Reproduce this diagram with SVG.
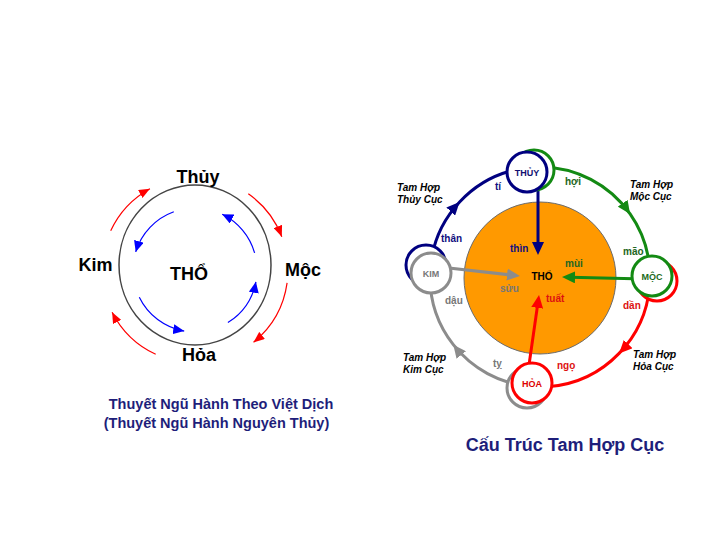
<svg xmlns="http://www.w3.org/2000/svg" width="720" height="540" viewBox="0 0 720 540">
<style>
text{font-family:"Liberation Sans",Arial,sans-serif;font-weight:bold}
.big{font-size:18px;fill:#000;text-anchor:middle}
.cap{fill:#1e1e7a;text-anchor:middle}
.lbl{font-size:10px}
.grp{font-size:10px;font-style:italic;fill:#000}
.nd{font-size:9px;text-anchor:middle}
.thin{fill:none;stroke-width:1.2}
.arc{fill:none;stroke-width:3}
.node{fill:#fff;stroke-width:3}
</style>
<defs>
<marker id="aR" markerUnits="userSpaceOnUse" markerWidth="11" markerHeight="9" viewBox="0 0 11 9" refX="11" refY="4.5" orient="auto"><path d="M0,0 L11,4.5 L0,9 z" fill="#ff0000"/></marker>
<marker id="aB" markerUnits="userSpaceOnUse" markerWidth="11" markerHeight="10" viewBox="0 0 11 10" refX="11" refY="5" orient="auto"><path d="M0,0 L11,5 L0,10 z" fill="#0000ff"/></marker>
<marker id="mN" markerUnits="userSpaceOnUse" markerWidth="13" markerHeight="12" viewBox="0 0 13 12" refX="13" refY="6" orient="auto"><path d="M0,0 L13,6 L0,12 z" fill="#000080"/></marker>
<marker id="mG" markerUnits="userSpaceOnUse" markerWidth="13" markerHeight="12" viewBox="0 0 13 12" refX="13" refY="6" orient="auto"><path d="M0,0 L13,6 L0,12 z" fill="#138a13"/></marker>
<marker id="mR" markerUnits="userSpaceOnUse" markerWidth="13" markerHeight="12" viewBox="0 0 13 12" refX="13" refY="6" orient="auto"><path d="M0,0 L13,6 L0,12 z" fill="#ff0000"/></marker>
<marker id="mY" markerUnits="userSpaceOnUse" markerWidth="13" markerHeight="12" viewBox="0 0 13 12" refX="13" refY="6" orient="auto"><path d="M0,0 L13,6 L0,12 z" fill="#8c8c8c"/></marker>
<marker id="eN" markerUnits="userSpaceOnUse" markerWidth="13" markerHeight="12" viewBox="0 0 13 12" refX="5" refY="6" orient="auto"><path d="M0,0 L13,6 L0,12 z" fill="#000080"/></marker>
<marker id="eG" markerUnits="userSpaceOnUse" markerWidth="13" markerHeight="12" viewBox="0 0 13 12" refX="5" refY="6" orient="auto"><path d="M0,0 L13,6 L0,12 z" fill="#138a13"/></marker>
<marker id="eR" markerUnits="userSpaceOnUse" markerWidth="13" markerHeight="12" viewBox="0 0 13 12" refX="5" refY="6" orient="auto"><path d="M0,0 L13,6 L0,12 z" fill="#ff0000"/></marker>
<marker id="eY" markerUnits="userSpaceOnUse" markerWidth="13" markerHeight="12" viewBox="0 0 13 12" refX="5" refY="6" orient="auto"><path d="M0,0 L13,6 L0,12 z" fill="#8c8c8c"/></marker>
</defs>
<rect width="720" height="540" fill="#fff"/>

<!-- LEFT DIAGRAM -->
<g id="left-ring"><ellipse cx="195" cy="265" rx="76" ry="80" fill="none" stroke="#444" stroke-width="1.5"/></g>
<g id="left-connectors">
<path class="thin" stroke="#ff0000" marker-end="url(#aR)" d="M110.7,230.7 A93,93 0 0 1 149.9,188.7"/>
<path class="thin" stroke="#ff0000" marker-end="url(#aR)" d="M248.3,193.8 A93,93 0 0 1 281.8,236.7"/>
<path class="thin" stroke="#ff0000" marker-end="url(#aR)" d="M287.1,282.9 A93,93 0 0 1 253.5,342.3"/>
<path class="thin" stroke="#ff0000" marker-end="url(#aR)" d="M155.7,354.3 A93,93 0 0 1 112.1,312.2"/>
<path class="thin" stroke="#0000ff" marker-end="url(#aB)" d="M173.8,211.7 A62,62 0 0 0 135.7,251.9"/>
<path class="thin" stroke="#0000ff" marker-end="url(#aB)" d="M139.3,297.2 A62,62 0 0 0 184.2,331.1"/>
<path class="thin" stroke="#0000ff" marker-end="url(#aB)" d="M227.9,322.6 A62,62 0 0 0 255.9,281.8"/>
<path class="thin" stroke="#0000ff" marker-end="url(#aB)" d="M254.6,252.9 A62,62 0 0 0 222.2,214.3"/>
</g>
<g id="l-thuy"><text class="big" x="198" y="183">Thủy</text></g>
<g id="l-kim"><text class="big" x="95.5" y="271">Kim</text></g>
<g id="l-moc"><text class="big" x="303" y="276">Mộc</text></g>
<g id="l-hoa"><text class="big" x="199" y="361">Hỏa</text></g>
<g id="l-tho"><text class="big" x="189" y="280">THỔ</text></g>
<g id="l-caption">
<text class="cap" x="221" y="409" font-size="14.5">Thuyết Ngũ Hành Theo Việt Dịch</text>
<text class="cap" x="216.5" y="428" font-size="14.5">(Thuyết Ngũ Hành Nguyên Thủy)</text>
</g>

<!-- RIGHT DIAGRAM -->
<g id="r-tho"><circle cx="540" cy="278" r="76" fill="#ff9900" stroke="#6b6b6b" stroke-width="1"/></g>
<g id="right-connectors">
<path class="arc" stroke="#000080" marker-mid="url(#mN)" d="M430.4,267.4 A110,110 0 0 1 459.6,202 A110,110 0 0 1 520.9,168.7"/>
<path class="arc" stroke="#138a13" marker-mid="url(#mG)" d="M540,167 A110,110 0 0 1 630.1,213.9 A110,110 0 0 1 649.6,267.4"/>
<path class="arc" stroke="#ff0000" marker-mid="url(#mR)" d="M649.6,286.6 A110,110 0 0 1 619.1,353.4 A110,110 0 0 1 549.6,386.6"/>
<path class="arc" stroke="#8c8c8c" marker-mid="url(#mY)" d="M530.4,386.6 A110,110 0 0 1 453.3,344.7 A110,110 0 0 1 430,277"/>
<path class="arc" stroke="#000080" marker-end="url(#eN)" d="M538,180 L538,247"/>
<path class="arc" stroke="#138a13" marker-end="url(#eG)" d="M645,279 L570,277.2"/>
<path class="arc" stroke="#ff0000" marker-end="url(#eR)" d="M528,372 L537.9,302.9"/>
<path class="arc" stroke="#8c8c8c" marker-end="url(#eY)" d="M440,267 L512,275.1"/>
</g>
<g id="n-thuy">
<circle class="node" cx="534" cy="170" r="20" stroke="#138a13"/>
<circle class="node" cx="527" cy="172" r="20" stroke="#000080"/>
<text class="nd" x="527" y="175.5" fill="#101070">THỦY</text>
</g>
<g id="n-moc">
<circle class="node" cx="657" cy="281" r="20" stroke="#ff0000"/>
<circle class="node" cx="652" cy="276" r="20" stroke="#138a13"/>
<text class="nd" x="652" y="279.5" fill="#1a6a1a">MỘC</text>
</g>
<g id="n-hoa">
<circle class="node" cx="527" cy="388" r="20" stroke="#8c8c8c"/>
<circle class="node" cx="532" cy="383" r="20" stroke="#ff0000"/>
<text class="nd" x="532" y="386.5" fill="#dd0000">HỎA</text>
</g>
<g id="n-kim">
<circle class="node" cx="426" cy="265" r="20" stroke="#000080"/>
<circle class="node" cx="431" cy="273" r="20" stroke="#8c8c8c"/>
<text class="nd" x="431" y="276.5" fill="#777">KIM</text>
</g>
<g id="n-tho-label"><text x="542" y="280" font-size="10" text-anchor="middle" fill="#000">THỔ</text></g>
<g id="r-labels">
<text class="lbl" x="495" y="190" fill="#101080">tí</text>
<text class="lbl" x="441" y="242" fill="#101080">thân</text>
<text class="lbl" x="510" y="252" fill="#101080">thìn</text>
<text class="lbl" x="565" y="185" fill="#226622">hợi</text>
<text class="lbl" x="623" y="255" fill="#226622">mão</text>
<text class="lbl" x="565" y="267" fill="#226622">mùi</text>
<text class="lbl" x="623" y="309" fill="#dd1111">dần</text>
<text class="lbl" x="546" y="302" fill="#dd1111">tuất</text>
<text class="lbl" x="557" y="369" fill="#dd1111">ngọ</text>
<text class="lbl" x="445" y="304" fill="#777">dậu</text>
<text class="lbl" x="500" y="292" fill="#777">sửu</text>
<text class="lbl" x="493" y="367" fill="#777">tỵ</text>
</g>
<g id="r-groups">
<text class="grp" x="397" y="191">Tam Hợp</text><text class="grp" x="397" y="203">Thủy Cục</text>
<text class="grp" x="630" y="188">Tam Hợp</text><text class="grp" x="630" y="200">Mộc Cục</text>
<text class="grp" x="633" y="358">Tam Hợp</text><text class="grp" x="633" y="370">Hỏa Cục</text>
<text class="grp" x="403" y="361">Tam Hợp</text><text class="grp" x="403" y="373">Kim Cục</text>
</g>
<g id="r-caption"><text class="cap" x="565" y="451" font-size="18">Cấu Trúc Tam Hợp Cục</text></g>
</svg>
